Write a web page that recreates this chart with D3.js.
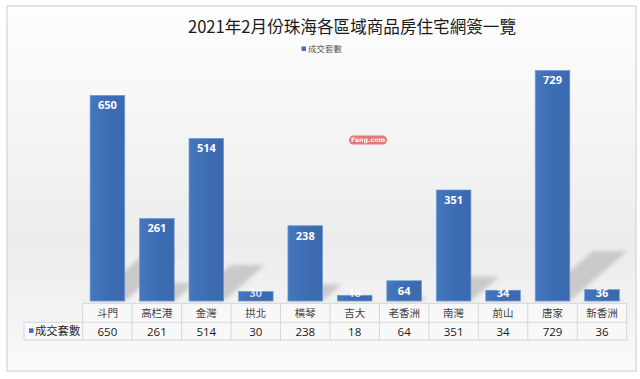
<!DOCTYPE html>
<html><head><meta charset="utf-8">
<script src="https://cdn.jsdelivr.net/npm/d3@7"></script>
<style>
html,body{margin:0;padding:0;background:#fff;}
svg{display:block;font-family:"Noto Sans CJK TC","Noto Sans",sans-serif;}
</style></head>
<body>
<svg id="chart" width="640" height="379"></svg>
<script>
const title = "2021年2月份珠海各區域商品房住宅網簽一覽";
const seriesName = "成交套數";
const categories = ["斗門","高栏港","金灣","拱北","橫琴","吉大","老香洲","南灣","前山","唐家","新香洲"];
const values = [650,261,514,30,238,18,64,351,34,729,36];

const svg = d3.select("#chart");
const defs = svg.append("defs");

const bg = defs.append("linearGradient").attr("id","bg").attr("x1",0).attr("y1",0).attr("x2",0).attr("y2",1);
bg.append("stop").attr("offset","0%").attr("stop-color","#fdfdfd");
bg.append("stop").attr("offset","25%").attr("stop-color","#f7f7f7");
bg.append("stop").attr("offset","65%").attr("stop-color","#ececec");
bg.append("stop").attr("offset","82%").attr("stop-color","#f2f2f2");
bg.append("stop").attr("offset","100%").attr("stop-color","#fbfbfb");

const barGrad = defs.append("linearGradient").attr("id","barg").attr("x1",0).attr("y1",0).attr("x2",1).attr("y2",0);
barGrad.append("stop").attr("offset","0%").attr("stop-color","#4677bd");
barGrad.append("stop").attr("offset","50%").attr("stop-color","#3d6db3");
barGrad.append("stop").attr("offset","100%").attr("stop-color","#3a69ae");

defs.append("filter").attr("id","blur").append("feGaussianBlur").attr("stdDeviation",2.2);

svg.append("rect").attr("x",7).attr("y",6).attr("width",629).attr("height",365)
  .attr("fill","url(#bg)").attr("stroke","#dcdcdc").attr("stroke-width",1.5);

svg.append("text").attr("x",352).attr("y",33).attr("text-anchor","middle")
  .attr("font-size",16.6).attr("fill","#1a1a1a").text(title);

svg.append("rect").attr("x",301.5).attr("y",46.5).attr("width",4.5).attr("height",4.5).attr("fill","#4472b8");
svg.append("text").attr("x",308).attr("y",52).attr("font-size",8.5).attr("fill","#595959").text(seriesName);

const x = d3.scaleBand().domain(categories).range([82.7,626.7]).paddingInner(0.3).paddingOuter(0.15);
const y = d3.scaleLinear().domain([0,800]).range([301,48]);
const step = x.step(), bw = x.bandwidth();
const colLeft = c => x(c) - (step - bw)/2;

const wm = svg.append("g").attr("opacity",0.75);
wm.append("rect").attr("x",349).attr("y",135.5).attr("width",38).attr("height",9).attr("rx",4.5).attr("fill","#e0504f");
wm.append("text").attr("x",368).attr("y",142.3).attr("text-anchor","middle").attr("font-size",6.3).attr("font-weight","bold")
  .attr("fill","#fff").attr("font-family","\"DejaVu Sans\",sans-serif").text("Fang.com");

const data = categories.map((c,i)=>({c, v:values[i]}));
svg.append("g").attr("filter","url(#blur)").selectAll("path").data(data).join("path")
  .attr("fill","#b9b9b9").attr("opacity",0.7)
  .attr("d", d => {
    const h = Math.min(50, d.v*0.07);
    const x0 = x(d.c), x1 = x(d.c)+bw, b = y(0);
    const dx = h*1.15;
    return `M${x0},${b}L${x1},${b}L${x1+dx},${b-h}L${x0+dx},${b-h}Z`;
  });

svg.append("g").selectAll("rect").data(data).join("rect")
  .attr("x", d=>x(d.c)).attr("width", bw)
  .attr("y", d=>y(d.v)).attr("height", d=>y(0)-y(d.v))
  .attr("fill","url(#barg)").attr("stroke","#6f9bd6").attr("stroke-width",0.7);

svg.append("g").selectAll("text").data(data).join("text")
  .attr("x", d=>x(d.c)+bw/2)
  .attr("y", d=>Math.min(y(d.v)+14, y(0)-4))
  .attr("text-anchor","middle").attr("font-size",11).attr("font-weight","bold")
  .attr("fill","#ffffff").attr("opacity", d => d.v < 32 ? 0.75 : 1)
  .attr("font-family","\"Open Sans\",\"Noto Sans\",sans-serif")
  .text(d=>d.v);

const t = svg.append("g");
const r0 = 303.3, r1 = 322.3, r2 = 340;
const lineCol = "#d6d6d6";
const tx0 = 82.7, tx1 = 626.7, lx = 24;
t.append("rect").attr("x",tx0).attr("y",r0).attr("width",tx1-tx0).attr("height",r2-r0).attr("fill","#f9f9f9").attr("opacity",0.8);
t.append("rect").attr("x",lx).attr("y",r1).attr("width",tx0-lx).attr("height",r2-r1).attr("fill","#f9f9f9").attr("opacity",0.8);
t.append("line").attr("x1",tx0).attr("x2",tx1).attr("y1",r0).attr("y2",r0).attr("stroke",lineCol);
t.append("line").attr("x1",lx).attr("x2",tx1).attr("y1",r1).attr("y2",r1).attr("stroke",lineCol);
t.append("line").attr("x1",lx).attr("x2",tx1).attr("y1",r2).attr("y2",r2).attr("stroke",lineCol);
t.append("line").attr("x1",lx).attr("x2",lx).attr("y1",r1).attr("y2",r2).attr("stroke",lineCol);
t.selectAll("line.v").data(categories).join("line").attr("class","v")
  .attr("x1",d=>colLeft(d)).attr("x2",d=>colLeft(d)).attr("y1",r0).attr("y2",r2).attr("stroke",lineCol);
t.append("line").attr("x1",tx1).attr("x2",tx1).attr("y1",r0).attr("y2",r2).attr("stroke",lineCol);

t.selectAll("text.cat").data(categories).join("text").attr("class","cat")
  .attr("x",d=>x(d)+bw/2).attr("y",316.5).attr("text-anchor","middle")
  .attr("font-size",10.5).attr("fill","#404040").text(d=>d);
t.selectAll("text.val").data(data).join("text").attr("class","val")
  .attr("x",d=>x(d.c)+bw/2).attr("y",335.5).attr("text-anchor","middle")
  .attr("font-size",11.5).attr("fill","#1a1a1a")
  .attr("font-family","\"Open Sans\",\"Noto Sans\",sans-serif").text(d=>d.v);

t.append("rect").attr("x",29).attr("y",328.3).attr("width",4.6).attr("height",4.6).attr("fill","#4472b8");
t.append("text").attr("x",35).attr("y",335).attr("font-size",11.3).attr("fill","#262626").text(seriesName);
</script>
</body></html>
